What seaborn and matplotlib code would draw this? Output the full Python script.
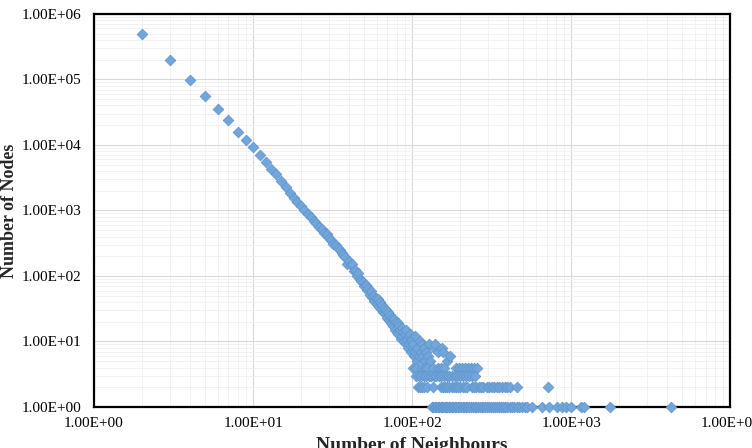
import pandas as pd
import matplotlib
matplotlib.use("Agg")
import matplotlib.pyplot as plt
import matplotlib.ticker as mticker
import seaborn as sns

diag_degree = [2, 3, 4, 5, 6, 7, 8, 9, 10, 11, 12, 13, 14, 15, 16, 17, 18, 19, 20,
               21, 22, 23, 24, 25, 26, 27, 28, 29, 30, 31, 32, 33, 34, 35, 36, 37,
               38, 39, 40, 41, 42, 43, 44, 45, 46, 47, 48, 49, 50, 51, 52, 53, 54,
               55, 56, 57, 58, 59, 60, 61, 62, 63, 64, 65, 66, 67, 68, 69, 70, 71,
               72, 73, 74, 75, 76, 77, 78, 79, 80, 81, 82, 83, 84, 85, 86, 87, 88,
               89, 90, 91, 92, 93, 94, 95, 96, 97, 98, 99, 100, 101, 102, 103, 104,
               105, 107, 108, 110, 112, 114, 116, 117, 119, 120, 123, 126, 128, 130,
               137, 140, 146, 154, 157, 165, 172]
diag_count = [500000, 200000, 98000, 56000, 35000, 24000, 16000, 12000, 9200, 7000,
              5400, 4300, 3600, 2850, 2250, 1850, 1550, 1350, 1180,
              1020, 880, 800, 690, 640, 560, 520, 450, 430, 380, 360, 310, 300, 265,
              250, 225, 210, 195, 150, 170, 145, 150, 120, 125, 100, 110, 90, 85, 82,
              70, 72, 62, 66, 52, 60, 48, 50, 42, 46, 38, 44, 34, 40, 31, 36, 28, 33,
              27, 30, 23, 28, 21, 25, 19, 23, 17, 22, 15, 20, 14, 19, 13, 17, 15, 11,
              16, 12, 14, 10, 13, 9, 15, 11, 8, 12, 9, 13, 7, 10, 11, 8, 9, 6, 12,
              7, 5, 8, 6, 10, 7, 9, 6, 8, 5, 7, 6, 9, 5, 8, 9, 7, 8, 7, 5, 6]

# the flat rows at the bottom (degrees that only a few nodes have)
row4_degree = [102, 106, 115, 120, 124, 135, 146, 152, 158, 190, 198, 207, 216, 226,
               236, 246, 256]
row3_degree = [106, 110, 114, 118, 122, 127, 132, 137, 142, 147, 153, 159, 165, 171,
               178, 185, 192, 200, 208, 217, 227, 238, 249]
row2_degree = [109, 112, 115, 119, 124, 135, 151, 156, 161, 166, 171, 177, 183, 189,
               195, 201, 208, 215, 220, 237, 245, 253, 262, 271, 281, 295, 305, 316,
               328, 340, 353, 367, 382, 397, 413, 455, 720]
row1_degree = [133, 136, 139, 142, 145, 148, 151, 154, 157, 160, 163, 166, 170, 174,
               178, 182, 186, 190, 194, 198, 203, 208, 213, 218, 223, 229, 235, 241,
               247, 253, 260, 267, 274, 281, 289, 297, 305, 313, 322, 331, 340, 350,
               360, 372, 384, 396, 410, 425, 440, 456, 472, 490, 510, 530, 566, 654,
               727, 813, 881, 930, 1000, 1150, 1213, 1758, 4256]

frames = [pd.DataFrame({'degree': diag_degree, 'nodes': diag_count})]
for n, degs in [(4, row4_degree), (3, row3_degree), (2, row2_degree), (1, row1_degree)]:
    frames.append(pd.DataFrame({'degree': degs, 'nodes': [n] * len(degs)}))
df = pd.concat(frames, ignore_index=True)

sns.set_theme(style="white")
plt.rcParams['font.family'] = ['Liberation Serif', 'DejaVu Serif']

fig, ax = plt.subplots(figsize=(7.52, 4.48), dpi=100)
fig.subplots_adjust(left=0.125, right=0.971, bottom=0.0915, top=0.969)

ax.set_xscale('log')
ax.set_yscale('log')
ax.set_xlim(1, 10000)
ax.set_ylim(1, 1e6)

sns.scatterplot(data=df, x='degree', y='nodes', ax=ax, marker='D', s=30,
                color='#72a6db', edgecolor='#5f93cd', linewidth=0.5,
                clip_on=False, zorder=5)

ax.xaxis.set_major_locator(mticker.LogLocator(base=10, numticks=10))
ax.yaxis.set_major_locator(mticker.LogLocator(base=10, numticks=10))
ax.xaxis.set_minor_locator(mticker.LogLocator(base=10, subs=range(2, 10), numticks=40))
ax.yaxis.set_minor_locator(mticker.LogLocator(base=10, subs=range(2, 10), numticks=40))
fmt = mticker.FuncFormatter(lambda v, p: f"{v:.2E}")
ax.xaxis.set_major_formatter(fmt)
ax.yaxis.set_major_formatter(fmt)
ax.xaxis.set_minor_formatter(mticker.NullFormatter())
ax.yaxis.set_minor_formatter(mticker.NullFormatter())

ax.grid(True, which='major', color='#d9d9d9', linewidth=0.8)
ax.grid(True, which='minor', color='#f0f0f0', linewidth=0.6)
ax.set_axisbelow(True)

ax.tick_params(axis='both', which='both', length=0, labelsize=11, colors='black')
ax.tick_params(axis='x', pad=7)
ax.tick_params(axis='y', pad=9)

for sp in ax.spines.values():
    sp.set_visible(True)
    sp.set_color('black')
    sp.set_linewidth(1.6)

ax.set_xlabel('Number of Neighbours', fontsize=14, fontweight='bold', labelpad=5)
ax.set_ylabel('Number of Nodes', fontsize=13, fontweight='bold', labelpad=3)

fig.savefig('out.png', dpi=100)
